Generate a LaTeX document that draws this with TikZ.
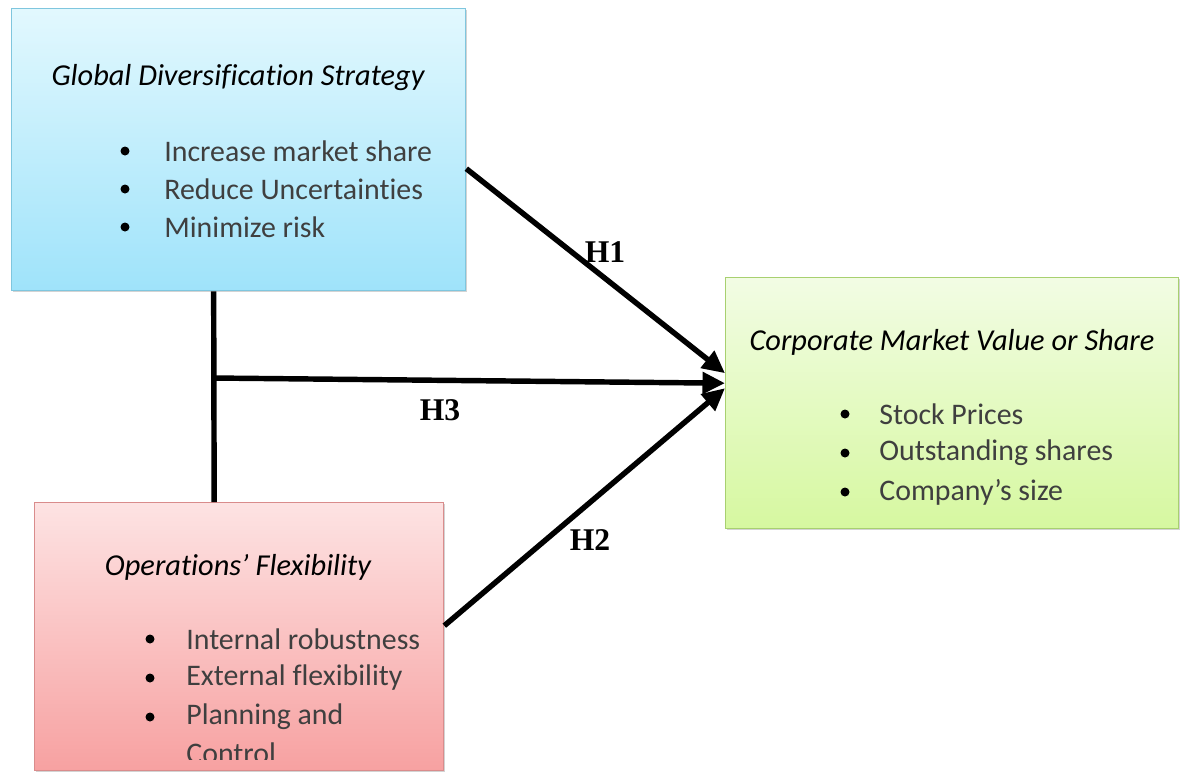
\documentclass[tikz,border=0pt]{standalone}
\usepackage{fontspec}
\setmainfont{Carlito}[Ligatures=NoCommon]
\newfontfamily\hfont{Liberation Serif}
\usetikzlibrary{shadows,arrows.meta}

\definecolor{bluetop}{HTML}{E2F8FE}
\definecolor{bluebot}{HTML}{9FE3FA}
\definecolor{blueline}{HTML}{7FC6DE}
\definecolor{redtop}{HTML}{FDE3E3}
\definecolor{redbot}{HTML}{F7A1A1}
\definecolor{redline}{HTML}{D98C8C}
\definecolor{greentop}{HTML}{F2FCE4}
\definecolor{greenbot}{HTML}{D6F8A0}
\definecolor{greenline}{HTML}{A8D070}
\definecolor{itemgray}{HTML}{3F3F3F}

\tikzset{
	box/.style={rectangle,anchor=north west,line width=0.8pt,
		drop shadow={opacity=0.35,shadow xshift=0.6pt,shadow yshift=-0.8pt}},
	title/.style={font=\fontsize{17.3}{20}\selectfont\itshape},
	item/.style={anchor=west,text=itemgray,font=\fontsize{17}{20}\selectfont,inner sep=0pt},
	dot/.style={circle,fill=black,inner sep=0pt,minimum size=0.18cm},
	hlab/.style={font=\fontsize{18}{20}\selectfont\hfont\bfseries},
	arr/.style={line width=3.1pt,-{Triangle[length=0.45cm,width=0.42cm]}}
}

\begin{document}
\begin{tikzpicture}[x=0.02cm,y=-0.02cm]
				\useasboundingbox (0,0) rectangle (1180,772);
				% boxes
				\node[box,draw=blueline,top color=bluetop,bottom color=bluebot,
					minimum width=9.08cm,minimum height=5.64cm] (gds) at (11,8) {};
				\node[box,draw=redline,top color=redtop,bottom color=redbot,
					minimum width=8.18cm,minimum height=5.36cm] (ops) at (34,502) {};
				\node[box,draw=greenline,top color=greentop,bottom color=greenbot,
					minimum width=9.06cm,minimum height=5.02cm] (cmv) at (725,277) {};
				% titles
				\node[title] (gdst) at (238,78) {Global Diversification Strategy};
				\node[title] (opst) at (238,567) {Operations’ Flexibility};
				\node[title] (cmvt) at (952,342) {Corporate Market Value or Share};
				% bullet lists
				\foreach \t [count=\i] in {Increase market share,Reduce Uncertainties,Minimize risk}{
					\node[dot,name=gb\i] at (125,{151+38*(\i-1)}) {};
					\node[item,name=gi\i] at (164,{151+38*(\i-1)}) {\t};
				}
				\foreach \t [count=\i] in {Internal robustness,External flexibility,Planning and}{
					\node[dot,name=ob\i] at (150,{639+39*(\i-1)}) {};
					\node[item,name=oi\i] at (186,{639+39*(\i-1)}) {\t};
				}
				\begin{scope}
					\clip (34,502) rectangle (443,759);
					\node[item,name=oi4] at (186,753) {Control};
				\end{scope}
				\foreach \t [count=\i] in {Stock Prices,Outstanding shares,Company’s size}{
					\node[dot,name=cb\i] at (845,{414+39*(\i-1)}) {};
					\node[item,name=ci\i] at (879,{414+39*(\i-1)}) {\t};
				}
				% connectors
				\coordinate (jn) at (213,378);
				\draw[line width=3.1pt] ([xshift=-0.5cm]gds.south)--([xshift=-0.5cm]ops.north);
				\draw[arr] ([yshift=-0.38cm]gds.east)--([yshift=0.6cm]cmv.west);
				\draw[arr] (jn)--([yshift=0.4cm]cmv.west);
				\draw[arr] ([yshift=0.22cm]ops.east)--([yshift=0.3cm]cmv.west);
				\node[hlab] (h1) at (605,252) {H1};
				\node[hlab] (h3) at (440,410) {H3};
				\node[hlab] (h2) at (590,540) {H2};
			\end{tikzpicture}
\end{document}
